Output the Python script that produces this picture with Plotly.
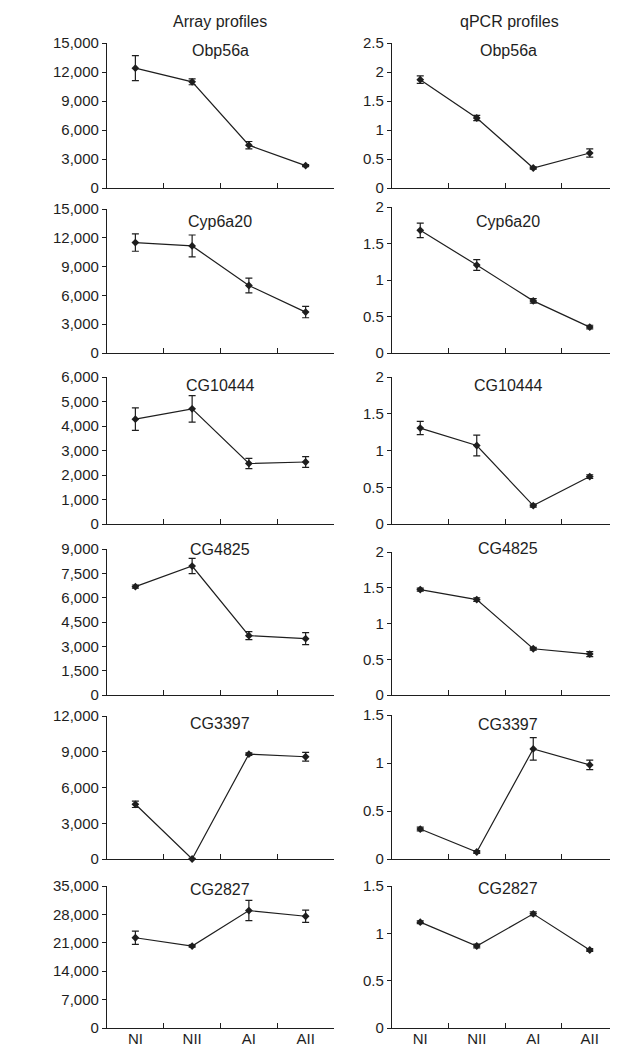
import plotly.graph_objects as go

categories = ["NI", "NII", "AI", "AII"]
genes = ["Obp56a", "Cyp6a20", "CG10444", "CG4825", "CG3397", "CG2827"]

array_means = [
    [12400, 10980, 4430, 2320],
    [11500, 11150, 7030, 4260],
    [4280, 4700, 2470, 2530],
    [6680, 7950, 3660, 3470],
    [4590, 0, 8800, 8580],
    [22240, 20200, 28950, 27550],
]
array_errors = [
    [1300, 300, 380, 100],
    [900, 1140, 760, 590],
    [460, 540, 210, 220],
    [100, 470, 250, 370],
    [270, 60, 100, 360],
    [1640, 300, 2500, 1520],
]
qpcr_means = [
    [1.868, 1.207, 0.345, 0.603],
    [1.68, 1.205, 0.714, 0.355],
    [1.305, 1.068, 0.25, 0.645],
    [1.474, 1.335, 0.647, 0.572],
    [0.312, 0.073, 1.147, 0.98],
    [1.118, 0.866, 1.206, 0.824],
]
qpcr_errors = [
    [0.065, 0.045, 0.02, 0.07],
    [0.10, 0.073, 0.03, 0.025],
    [0.09, 0.14, 0.02, 0.025],
    [0.02, 0.025, 0.02, 0.035],
    [0.02, 0.015, 0.118, 0.05],
    [0.015, 0.02, 0.02, 0.015],
]
array_ymax = [15000, 15000, 6000, 9000, 12000, 35000]
array_dtick = [3000, 3000, 1000, 1500, 3000, 7000]
qpcr_ymax = [2.5, 2, 2, 2, 1.5, 1.5]
qpcr_dtick = [0.5, 0.5, 0.5, 0.5, 0.5, 0.5]
column_titles = ["Array profiles", "qPCR profiles"]

# The page body has an 8px margin, so the figure starts at (8, 8) in the window.
OFF = 8
WIN_W, WIN_H = 618, 1049
W, H = WIN_W - OFF, WIN_H - OFF
FONT = "Liberation Sans, Arial, sans-serif"
INK = "#1e1e1e"

# pixel layout in window coordinates
left_x = (107, 334)
right_x = (392, 618)
left_tops = [43, 209, 377, 549, 716, 886]
left_bots = [188, 353, 524, 695, 859, 1028]
right_tops = [43, 207, 377, 552, 715, 886]
right_bots = [188, 353, 524, 695, 859, 1028]
left_title_y = [50, 221, 385, 549, 723, 889]
right_title_y = [50, 222, 385, 548, 724, 888]

def px2x(p):
    return min(1.0, (p - OFF) / W)

def px2y(p):
    return 1 - (p - OFF) / H

fig = go.Figure()
layout = dict(
    template="none",
    width=W, height=H, autosize=False,
    margin=dict(l=0, r=0, t=0, b=0, pad=0, autoexpand=False),
    paper_bgcolor="white", plot_bgcolor="white",
    showlegend=False,
    font=dict(family=FONT, size=15, color=INK),
)
annotations = []

idx = 0
for r in range(6):
    for c in range(2):
        idx += 1
        xa = "x" if idx == 1 else f"x{idx}"
        ya = "y" if idx == 1 else f"y{idx}"
        if c == 0:
            means, errs = array_means[r], array_errors[r]
            ymax, dt = array_ymax[r], array_dtick[r]
            xd = left_x
            top, bot = left_tops[r], left_bots[r]
            ty = left_title_y[r]
            tx = 220
            fmt = ",d"
        else:
            means, errs = qpcr_means[r], qpcr_errors[r]
            ymax, dt = qpcr_ymax[r], qpcr_dtick[r]
            xd = right_x
            top, bot = right_tops[r], right_bots[r]
            ty = right_title_y[r]
            tx = 508
            fmt = ""
        fig.add_trace(go.Scatter(
            x=categories, y=means, xaxis=xa, yaxis=ya,
            mode="lines+markers",
            line=dict(color=INK, width=1.2),
            marker=dict(symbol="diamond", size=6, color=INK),
            error_y=dict(type="data", array=errs, visible=True,
                         color=INK, thickness=1.2, width=3.5),
            cliponaxis=False,
        ))
        xkey = "xaxis" if idx == 1 else f"xaxis{idx}"
        ykey = "yaxis" if idx == 1 else f"yaxis{idx}"
        layout[xkey] = dict(
            domain=[px2x(xd[0]), px2x(xd[1])],
            anchor=ya, type="category",
            categoryorder="array", categoryarray=categories,
            range=[-0.5, 3.5],
            showline=True, linecolor=INK, linewidth=1.3,
            showgrid=False, zeroline=False,
            ticks="inside", ticklen=5, tickwidth=1.3, tickcolor=INK,
            tickson="boundaries",
            showticklabels=(r == 5),
            ticklabelstandoff=-3,
            tickfont=dict(family=FONT, size=15, color=INK),
            automargin=False,
            fixedrange=True,
        )
        layout[ykey] = dict(
            domain=[px2y(bot), px2y(top)],
            anchor=xa, range=[0, ymax],
            tickmode="linear", tick0=0, dtick=dt,
            tickformat=fmt,
            showline=True, linecolor=INK, linewidth=1.3,
            showgrid=False, zeroline=False,
            ticks="outside", ticklen=4, tickwidth=1.3, tickcolor=INK,
            tickfont=dict(family=FONT, size=15, color=INK),
            automargin=False,
            fixedrange=True,
        )
        annotations.append(dict(
            x=px2x(tx), y=px2y(ty), xref="paper", yref="paper",
            text=genes[r], showarrow=False,
            xanchor="center", yanchor="middle",
            font=dict(family=FONT, size=16, color=INK),
        ))

annotations.append(dict(x=px2x(220), y=px2y(21), xref="paper", yref="paper",
                        text=column_titles[0], showarrow=False,
                        xanchor="center", yanchor="middle",
                        font=dict(family=FONT, size=16, color=INK)))
annotations.append(dict(x=px2x(509), y=px2y(21), xref="paper", yref="paper",
                        text=column_titles[1], showarrow=False,
                        xanchor="center", yanchor="middle",
                        font=dict(family=FONT, size=16, color=INK)))
layout["annotations"] = annotations
fig.update_layout(**layout)
fig.write_html("out.html")
